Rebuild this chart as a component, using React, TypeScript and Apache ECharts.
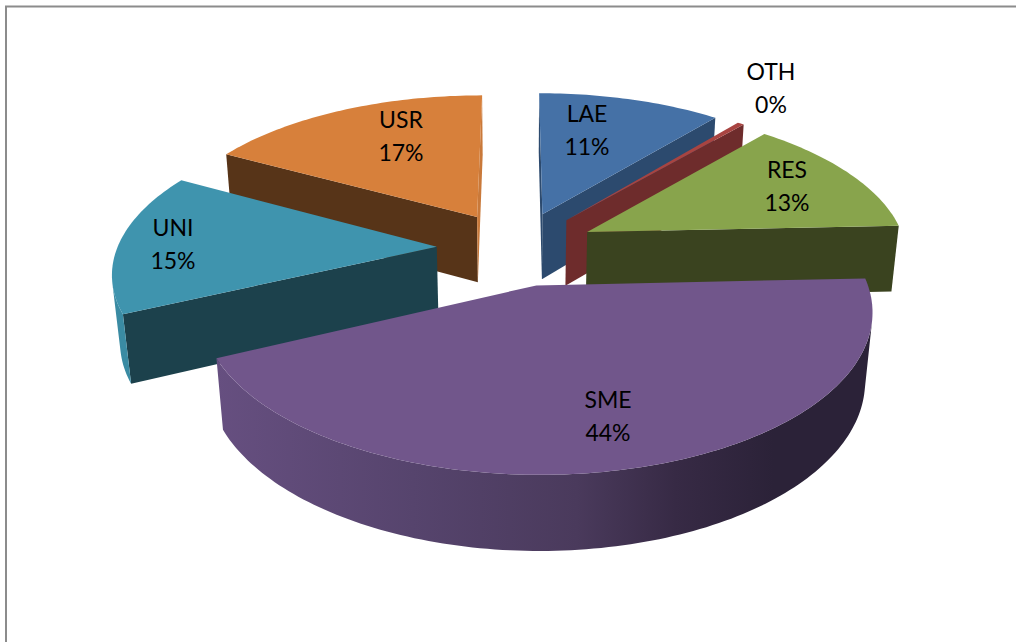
import React, { useEffect, useRef } from "react";
import * as echarts from "echarts";

const categories = ["LAE", "OTH", "RES", "SME", "UNI", "USR"];
const shares = [10.9, 0.4, 13, 43.7, 15, 17];

const topColors = ["#4571a6", "#a84441", "#88a44c", "#71568b", "#3f94ae", "#d7803b"];
const startWallColors = ["#2c4a6e", "#6e2c2c", "#3a431f", "#5d4975", "#1c414c", "#573418"];
const endWallColors = ["#2c4a6e", "#6e2c2c", "#3a431f", "#5d4975", "#1c414c", "#c9793a"];
const sideStops: [number, string][][] = [
  [[0, "#2c4a6e"], [1, "#2c4a6e"]],
  [[0, "#6e2c2c"], [1, "#6e2c2c"]],
  [[0, "#3a431f"], [1, "#3a431f"]],
  [[0, "#664f80"], [0.3, "#56446d"], [0.55, "#4a3a5c"], [0.7, "#372a45"], [0.85, "#2b2238"], [1, "#2b2238"]],
  [[0, "#3a8ba3"], [1, "#3a8ba3"]],
  [[0, "#573418"], [1, "#573418"]],
];
const drawRank = [0, 2, 3, 5, 4, 1];
const labelAnchors = [
  [587, 129], [771, 87], [787, 185], [608, 415], [173, 243], [401, 135],
];

const CX = 516.5, CY = 248, SCALE_X = 319.5, SCALE_Y = 148.5, PERSP = 0.15, EXPLODE = 0.25;
const THICK = 68, THICK_PERSP = 0.02;

function project(X: number, Y: number, down: number): [number, number] {
  const w = 1 + PERSP * Y + THICK_PERSP * down;
  return [CX + (SCALE_X * X) / w, CY + (-SCALE_Y * Y + THICK * down) / w];
}
function area(p: number[][]) {
  let s = 0;
  for (let i = 0; i < p.length; i++) {
    const a = p[i], b = p[(i + 1) % p.length];
    s += a[0] * b[1] - b[0] * a[1];
  }
  return s;
}

const total = shares.reduce((a, b) => a + b, 0);

function renderSlice(params: any, api: any) {
  const i = params.dataIndex;
  const before = shares.slice(0, i).reduce((a, b) => a + b, 0);
  const t0 = (before / total) * Math.PI * 2;
  const t1 = ((before + api.value(0)) / total) * Math.PI * 2;
  const tm = (t0 + t1) / 2;
  const ox = EXPLODE * Math.sin(tm), oy = EXPLODE * Math.cos(tm);
  const rim = (t: number, d: number) => project(ox + Math.sin(t), oy + Math.cos(t), d);
  const apexT = project(ox, oy, 0), apexB = project(ox, oy, 1);
  const steps = Math.max(2, Math.ceil((t1 - t0) / 0.02));
  const angles: number[] = [];
  for (let k = 0; k <= steps; k++) angles.push(t0 + ((t1 - t0) * k) / steps);
  const base = drawRank[i] * 10;
  const children: any[] = [];
  const poly = (points: number[][], fill: any, z: number) =>
    children.push({ type: "polygon", z2: base + z, silent: true, shape: { points }, style: { fill, stroke: null } });

  const startQuad = [apexT, rim(t0, 0), rim(t0, 1), apexB];
  if (area(startQuad) < 0) poly(startQuad, startWallColors[i], 1);
  const endQuad = [apexT, rim(t1, 0), rim(t1, 1), apexB];
  if (area(endQuad) > 0) poly(endQuad, endWallColors[i], 1);

  let run: number[] = [];
  const flush = () => {
    if (run.length < 2) { run = []; return; }
    const pts = [...run.map((t) => rim(t, 0)), ...run.slice().reverse().map((t) => rim(t, 1))];
    poly(pts, {
      type: "linear", x: 0, y: 0, x2: 1, y2: 0,
      colorStops: sideStops[i].map(([offset, color]) => ({ offset, color })),
    }, 2);
    run = [];
  };
  for (let k = 0; k < steps; k++) {
    const a = angles[k], b = angles[k + 1];
    const facing = area([rim(a, 0), rim(b, 0), rim(b, 1), rim(a, 1)]) < 0;
    if (facing) {
      if (!run.length) run.push(a);
      run.push(b);
    } else flush();
  }
  flush();

  poly([apexT, ...angles.map((t) => rim(t, 0))], topColors[i], 3);

  const [lx, ly] = labelAnchors[i];
  children.push({
    type: "text", z2: 200, silent: true,
    style: {
      x: lx, y: ly,
      text: `${categories[i]}\n${Math.round(api.value(0))}%`,
      align: "center", verticalAlign: "middle", lineHeight: 33,
      font: '23px Lato', fill: "#000000",
    },
  });
  return { type: "group", children };
}

export default function App() {
  const ref = useRef<HTMLDivElement>(null);
  useEffect(() => {
    const chart = echarts.init(ref.current!, undefined, { renderer: "svg" });
    chart.setOption({
      animation: false,
      backgroundColor: "#ffffff",
      graphic: [
        { type: "line", silent: true, shape: { x1: 5, y1: 6.5, x2: 1016, y2: 6.5 }, style: { stroke: "#8c8c8c", lineWidth: 2 } },
        { type: "line", silent: true, shape: { x1: 6, y1: 6, x2: 6, y2: 642 }, style: { stroke: "#8c8c8c", lineWidth: 2 } },
      ],
      series: [{
        type: "custom",
        coordinateSystem: "none",
        renderItem: renderSlice,
        data: categories.map((name, i) => ({ name, value: [shares[i]] })),
      }],
    });
    return () => chart.dispose();
  }, []);
  return <div ref={ref} style={{ position: "absolute", left: 0, top: 0, width: 1016, height: 642 }} />;
}
